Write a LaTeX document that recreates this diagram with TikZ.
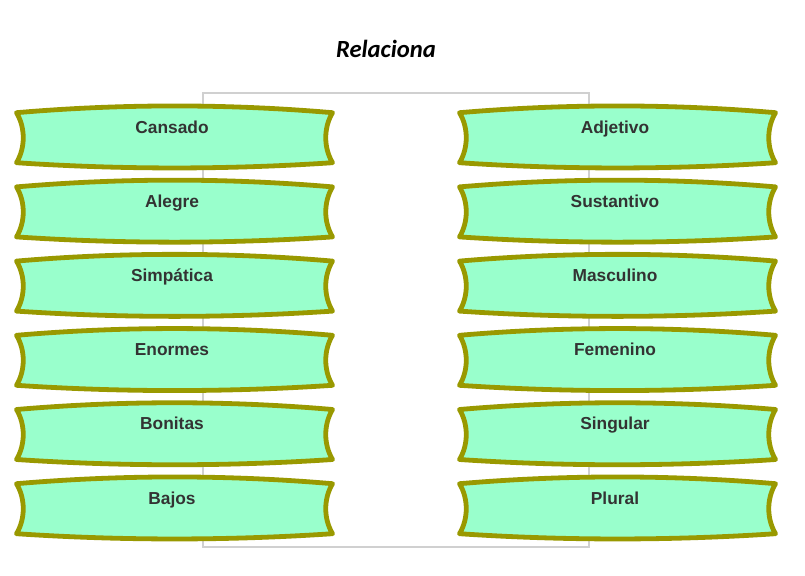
\documentclass[tikz,border=0pt]{standalone}
\usepackage{fontspec}
\setmainfont{Liberation Sans}
\newfontfamily\titlefont{Carlito}
\usepackage{tikz}
\usepackage{xcolor}

\definecolor{mintbg}{HTML}{99FFCC}
\definecolor{olivebd}{HTML}{999900}
\definecolor{framegray}{HTML}{D0D0D0}
\definecolor{labelgray}{HTML}{333333}

\tikzset{
  banner/.pic={
    \draw[draw=olivebd, fill=mintbg, line width=3.6pt, line join=round]
      (-158,-25) .. controls (-53,-34) and (53,-34) .. (158,-25)
      .. controls (149,-10) and (149,10) .. (158,25)
      .. controls (53,32) and (-53,32) .. (-158,25)
      .. controls (-149,10) and (-149,-10) .. cycle;
  },
  lbl/.style={font=\fontsize{13}{15}\selectfont\bfseries, text=labelgray, anchor=base},
  titulo/.style={font=\titlefont\fontsize{18.5}{22}\selectfont\bfseries\itshape}
}

\begin{document}
\begin{tikzpicture}[x=0.75pt,y=-0.75pt]
    \useasboundingbox (0,0) rectangle (805,575);
    \node[titulo] (title) at (386,49) {Relaciona};
    \draw[framegray, line width=0.8pt] (203,93) rectangle (589,547);
    % palabras
    \foreach \txt [count=\i] in {Cansado,Alegre,Simpática,Enormes,Bonitas,Bajos} {
        \pic at (174.5,{137.7+(\i-1)*74.2}) {banner};
        \node[lbl] (p\i) at (172,{133+(\i-1)*74.2}) {\txt};
    }
    % categorias
    \foreach \txt [count=\i] in {Adjetivo,Sustantivo,Masculino,Femenino,Singular,Plural} {
        \pic at (617.5,{137.7+(\i-1)*74.2}) {banner};
        \node[lbl] (c\i) at (615,{133+(\i-1)*74.2}) {\txt};
    }
\end{tikzpicture}
\end{document}
